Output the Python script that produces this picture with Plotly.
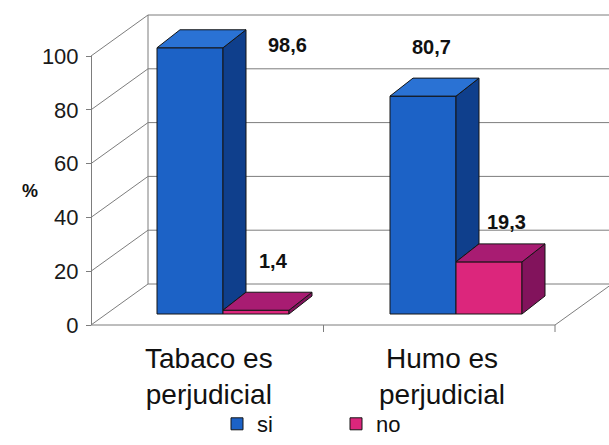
import plotly.graph_objects as go

# ---------------- data ----------------
categories = ["Tabaco es<br>perjudicial", "Humo es<br>perjudicial"]
series_names = ["si", "no"]
si_values = [98.6, 80.7]
no_values = [1.4, 19.3]
y_ticks = [0, 20, 40, 60, 80, 100]
y_title = "%"

# ---------------- styling constants ----------------
W, H = 609, 445
FONT = "Arial, Liberation Sans, sans-serif"
GRID = "#7d7d7d"
EDGE = "#151515"
SI_FRONT, SI_TOP, SI_SIDE = "#1c62c6", "#2a72d4", "#0f3f8c"
NO_FRONT, NO_TOP, NO_SIDE = "#dc267c", "#a81c72", "#82135c"

# pixel geometry of the pseudo-3D frame
CAT0_PX, CAT_STEP_PX = 223.0, 233.0      # category centres in bar plane
BAR_ZERO_PX, BAR_K = 314.0, 2.70         # bar plane: px of value 0, px per unit
FRONT_ZERO_PX, FRONT_K = 325.0, 2.69     # front axis
AXIS_X_PX = 91.0
DEPTH_DX, DEPTH_DY = 57.0, 41.0          # wall depth
BAR_DX, BAR_DY = 23.0, 18.0              # bar depth
FLOOR_RIGHT_PX = 555.0

bargap = 1 - 2 * 66.0 / CAT_STEP_PX
bar_w = (1 - bargap) / 2
dxu = BAR_DX / CAT_STEP_PX
dyu = BAR_DY / BAR_K


def px(x):
    return x / W


def py(y):
    return 1 - y / H


def yf(v):
    return FRONT_ZERO_PX - FRONT_K * v


fig = go.Figure()

# front faces (real bars)
xs = list(range(len(categories)))
fig.add_trace(go.Bar(x=xs, y=si_values, name=series_names[0],
                     marker=dict(color=SI_FRONT, line=dict(color=EDGE, width=1)),
                     hoverinfo="skip"))
fig.add_trace(go.Bar(x=xs, y=no_values, name=series_names[1],
                     marker=dict(color=NO_FRONT, line=dict(color=EDGE, width=1)),
                     hoverinfo="skip"))


def poly(xp, yp, color):
    fig.add_trace(go.Scatter(x=xp + [xp[0]], y=yp + [yp[0]], fill="toself",
                             fillcolor=color, mode="lines",
                             line=dict(color=EDGE, width=1),
                             showlegend=False, hoverinfo="skip"))


for i in xs:
    # si bar
    xl, xr = i - bar_w, i
    v, base = si_values[i], no_values[i]
    poly([xr, xr, xr + dxu, xr + dxu], [base, v, v + dyu, base + dyu], SI_SIDE)
    poly([xl, xr, xr + dxu, xl + dxu], [v, v, v + dyu, v + dyu], SI_TOP)
    # no bar
    xl, xr = i, i + bar_w
    v = no_values[i]
    poly([xr, xr, xr + dxu, xr + dxu], [0, v, v + dyu, dyu], NO_SIDE)
    poly([xl, xr, xr + dxu, xl + dxu], [v, v, v + dyu, v + dyu], NO_TOP)

# invisible trace to make the front value axis render
fig.add_trace(go.Scatter(x=[0], y=[0], yaxis="y2", mode="markers",
                         marker=dict(opacity=0), showlegend=False, hoverinfo="skip"))

# walls, gridlines and floor
shapes = []
for t in y_ticks:
    yfront = yf(t)
    yback = yfront - DEPTH_DY
    xb = AXIS_X_PX + DEPTH_DX
    shapes.append(dict(type="line", xref="paper", yref="paper", layer="below",
                       x0=px(AXIS_X_PX), y0=py(yfront), x1=px(xb), y1=py(yback),
                       line=dict(color=GRID, width=1)))
    shapes.append(dict(type="line", xref="paper", yref="paper", layer="below",
                       x0=px(xb), y0=py(yback), x1=1, y1=py(yback),
                       line=dict(color=GRID, width=1)))
# back wall left edge
shapes.append(dict(type="line", xref="paper", yref="paper", layer="below",
                   x0=px(AXIS_X_PX + DEPTH_DX), y0=py(yf(0) - DEPTH_DY),
                   x1=px(AXIS_X_PX + DEPTH_DX), y1=py(yf(100) - DEPTH_DY),
                   line=dict(color=GRID, width=1)))
# floor front edge and right edge
shapes.append(dict(type="line", xref="paper", yref="paper", layer="below",
                   x0=px(AXIS_X_PX), y0=py(yf(0)), x1=px(FLOOR_RIGHT_PX), y1=py(yf(0)),
                   line=dict(color=GRID, width=1)))
shapes.append(dict(type="line", xref="paper", yref="paper", layer="below",
                   x0=px(FLOOR_RIGHT_PX), y0=py(yf(0)),
                   x1=px(FLOOR_RIGHT_PX + DEPTH_DX), y1=py(yf(0) - DEPTH_DY),
                   line=dict(color=GRID, width=1)))
# category ticks on floor front
for xt in [CAT0_PX + 0.5 * CAT_STEP_PX - 16, FLOOR_RIGHT_PX]:
    shapes.append(dict(type="line", xref="paper", yref="paper", layer="below",
                       x0=px(xt), y0=py(yf(0)), x1=px(xt), y1=py(yf(0) + 7),
                       line=dict(color=GRID, width=1)))

annotations = []
# category labels
for i, c in enumerate(categories):
    annotations.append(dict(x=i, xref="x", y=py(376), yref="paper", text=c,
                            showarrow=False, xshift=-14, xanchor="center", yanchor="middle",
                            font=dict(family=FONT, size=28, color="#111111")))
# value labels
label_shift = {("si", 0): (97, 3), ("no", 0): (17, 49),
               ("si", 1): (8, 49), ("no", 1): (17, 40)}
for name, vals, off in [("si", si_values, -bar_w / 2), ("no", no_values, bar_w / 2)]:
    for i, v in enumerate(vals):
        sx, sy = label_shift[(name, i)]
        annotations.append(dict(x=i + off, xref="x", y=v, yref="y",
                                text=f"<b>{v:.1f}</b>".replace(".", ","),
                                showarrow=False, xshift=sx, yshift=sy,
                                xanchor="center", yanchor="middle",
                                font=dict(family=FONT, size=20, color="#111111")))
# y title
annotations.append(dict(x=px(20), y=py(191), xref="paper", yref="paper",
                        text=f"<b>{y_title}</b>", showarrow=False,
                        font=dict(family=FONT, size=18, color="#111111")))

fig.update_layout(
    width=W, height=H,
    margin=dict(l=0, r=0, t=0, b=0, autoexpand=False),
    paper_bgcolor="white", plot_bgcolor="rgba(0,0,0,0)",
    barmode="group", bargap=bargap, bargroupgap=0,
    xaxis=dict(range=[-CAT0_PX / CAT_STEP_PX, (W - CAT0_PX) / CAT_STEP_PX],
               visible=False, fixedrange=True),
    yaxis=dict(range=[(BAR_ZERO_PX - H) / BAR_K, BAR_ZERO_PX / BAR_K],
               visible=False, fixedrange=True),
    yaxis2=dict(domain=[py(yf(0)), py(yf(100))], range=[0, 100],
                anchor="free", position=px(AXIS_X_PX), side="left",
                tickvals=y_ticks, showgrid=False, zeroline=False,
                showline=True, linecolor=GRID, linewidth=1,
                ticks="outside", ticklen=5, tickcolor=GRID, ticklabelstandoff=3,
                tickfont=dict(family=FONT, size=22, color="#1a1a1a"), fixedrange=True),
    showlegend=True,
    legend=dict(orientation="h", x=px(217), xanchor="left", y=0, yanchor="bottom",
                font=dict(family=FONT, size=22, color="#111111"),
                entrywidth=74, itemwidth=30, bgcolor="rgba(0,0,0,0)",
                traceorder="normal"),
    shapes=shapes, annotations=annotations,
)

fig.write_html("out.html", config={"displayModeBar": False, "staticPlot": True},
               post_script="document.body.style.margin='0';document.body.style.overflow='hidden';")
